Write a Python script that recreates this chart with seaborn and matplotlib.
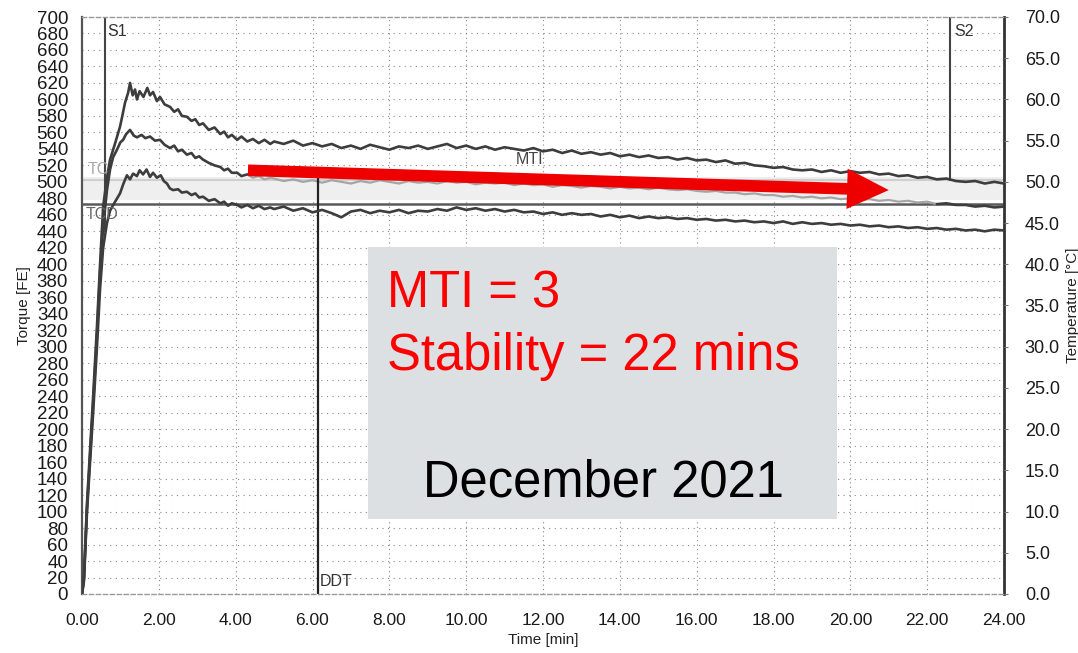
import numpy as np
import pandas as pd
import matplotlib
matplotlib.use("Agg")
import matplotlib.pyplot as plt
from matplotlib import font_manager
from matplotlib.patches import Rectangle
import seaborn as sns

# ---------------- data ----------------
t_early = [0.0, 0.05, 0.13, 0.29, 0.39, 0.47, 0.55, 0.65, 0.73, 0.85, 0.99, 1.05, 1.12, 1.2, 1.25,
           1.32, 1.38, 1.43, 1.5, 1.6, 1.7, 1.77, 1.85, 1.95, 2.03, 2.15, 2.29, 2.4, 2.5, 2.6, 2.73,
           2.85, 2.95, 3.05, 3.15, 3.3, 3.45, 3.6, 3.7, 3.8, 3.9, 4.04, 4.15, 4.3, 4.45, 4.6, 4.75, 4.9]
upper_early = [0, 20, 110, 240, 325, 400, 470, 505, 527, 545, 567, 580, 596, 608, 620,
               605, 612, 600, 610, 603, 614, 605, 609, 598, 603, 594, 591, 585, 588, 580, 579,
               574, 576, 569, 571, 563, 566, 558, 561, 554, 557, 551, 555, 549, 552, 547, 551, 546]
t_mid_early = [0.0, 0.05, 0.13, 0.29, 0.39, 0.47, 0.55, 0.65, 0.73, 0.81, 0.9, 1.0, 1.07, 1.15, 1.25,
               1.35, 1.43, 1.55, 1.65, 1.77, 1.9, 2.03, 2.15, 2.29, 2.4, 2.5, 2.6, 2.73, 2.85, 2.95,
               3.05, 3.15, 3.3, 3.45, 3.6, 3.7, 3.8, 3.9, 4.04, 4.15, 4.3, 4.45, 4.6, 4.75, 4.9]
middle_early = [0, 18, 105, 230, 315, 390, 445, 490, 515, 530, 538, 548, 551, 558, 563,
                556, 554, 557, 553, 555, 550, 551, 545, 541, 544, 537, 539, 533, 535, 529,
                531, 527, 523, 520, 518, 514, 516, 511, 511, 507, 509, 505, 507, 503, 505]
t_low_early = [0.0, 0.05, 0.13, 0.29, 0.39, 0.47, 0.55, 0.65, 0.73, 0.85, 0.99, 1.08, 1.17, 1.25,
               1.33, 1.43, 1.5, 1.59, 1.68, 1.77, 1.85, 1.95, 2.05, 2.13, 2.21, 2.29, 2.37, 2.5,
               2.6, 2.73, 2.85, 2.95, 3.05, 3.15, 3.3, 3.45, 3.6, 3.7, 3.8, 3.9, 4.04, 4.15, 4.3,
               4.45, 4.6, 4.75, 4.9]
lower_early = [0, 15, 100, 220, 300, 370, 420, 450, 465, 475, 486, 498, 508, 503,
               510, 507, 514, 509, 515, 506, 511, 505, 508, 501, 498, 492, 490, 491,
               487, 488, 484, 486, 481, 482, 477, 479, 474, 476, 471, 474, 472, 469, 472,
               468, 471, 467, 469]

# late part sampled every 0.25 min from 5.00 to 24.00
t_late = np.arange(5.0, 24.001, 0.25)
upper_late = [549, 546, 550, 544, 547, 543, 546, 541, 544, 540, 545, 542, 539, 543, 541, 544,
              540, 543, 546, 541, 544, 540, 543, 539, 542, 540, 538, 541, 537, 539, 535, 538,
              534, 536, 533, 535, 531, 533, 530, 532, 529, 530, 527, 529, 526, 527, 524, 526,
              522, 523, 520, 519, 517, 518, 515, 514, 515, 512, 514, 511, 513, 511, 512, 509,
              510, 507, 508, 505, 506, 503, 504, 501, 500, 501, 498, 500, 498]
middle_late = [504, 501, 503, 500, 502, 499, 502, 500, 498, 501, 499, 502, 500, 498, 501, 499,
               500, 498, 501, 499, 500, 497, 499, 498, 499, 496, 498, 496, 497, 494, 496, 495,
               493, 495, 494, 492, 494, 492, 493, 491, 493, 491, 490, 491, 489, 488, 489, 487,
               487, 485, 486, 484, 484, 482, 483, 481, 482, 480, 481, 479, 480, 478, 479, 477,
               478, 476, 477, 475, 476, 473, 474, 472, 472, 470, 471, 469, 470]
lower_late = [467, 470, 465, 468, 463, 466, 462, 457, 464, 466, 462, 465, 463, 466, 462, 465,
              464, 467, 465, 469, 466, 468, 465, 467, 464, 466, 463, 464, 461, 463, 460, 462,
              460, 461, 458, 460, 457, 459, 456, 458, 456, 457, 455, 456, 454, 455, 453, 454,
              452, 453, 451, 452, 450, 452, 449, 451, 449, 450, 448, 449, 447, 448, 446, 447,
              445, 446, 444, 445, 443, 444, 442, 443, 441, 442, 440, 442, 441]

torque_ticks = list(range(0, 701, 20))
temp_ticks = [0.0, 5.0, 10.0, 15.0, 20.0, 25.0, 30.0, 35.0, 40.0, 45.0, 50.0, 55.0, 60.0, 65.0, 70.0]
time_ticks = [0, 2, 4, 6, 8, 10, 12, 14, 16, 18, 20, 22, 24]

tcd_level = 473
tc_band = (478, 506)
s1_time, s2_time, ddt_time = 0.6, 22.6, 6.15
arrow_start = (4.32, 514)
arrow_end = (21.0, 490)

# ---------------- styling ----------------
sns.set_theme(style="white")
names = {f.name for f in font_manager.fontManager.ttflist}
narrow = "Liberation Sans Narrow" if "Liberation Sans Narrow" in names else "Liberation Sans"
plt.rcParams["font.family"] = ["Liberation Sans", "DejaVu Sans"]

fig = plt.figure(figsize=(10.78, 6.53), dpi=100)
fig.patch.set_facecolor("white")
ax = fig.add_axes([82 / 1078, 1 - 594 / 653, (1004 - 82) / 1078, (594 - 17) / 653])
ax.set_facecolor("white")

ax.set_xlim(0, 24)
ax.set_ylim(0, 700)

# dotted grid
for v in torque_ticks[1:-1]:
    ax.axhline(v, color="#8a8a8a", lw=0.8, ls=(0, (1, 4)), zorder=0)
for tt in time_ticks[1:-1]:
    ax.axvline(tt, color="#8a8a8a", lw=0.8, ls=(0, (1, 3)), zorder=0)

# tolerance band + TCD line
ax.axhspan(tc_band[0], tc_band[1], color="#efefef", zorder=0.5, lw=0)
ax.axhline(502, color="#cfcfcf", lw=1.5, zorder=0.6)
ax.axhline(tcd_level, color="#5a5a5a", lw=1.8, zorder=1)

# curves
dark = "#3d3d3d"
up_t = list(t_early) + list(t_late)
up_v = list(upper_early) + list(upper_late)
mid_t = list(t_mid_early) + list(t_late)
mid_v = list(middle_early) + list(middle_late)
lo_t = list(t_low_early) + list(t_late)
lo_v = list(lower_early) + list(lower_late)

df = pd.concat([
    pd.DataFrame({"t": up_t, "v": up_v, "curve": "upper"}),
    pd.DataFrame({"t": lo_t, "v": lo_v, "curve": "lower"}),
])
sns.lineplot(data=df, x="t", y="v", units="curve", estimator=None, sort=False,
             color=dark, lw=1.9, ax=ax, zorder=3)

mid = pd.DataFrame({"t": mid_t, "v": mid_v})
sns.lineplot(data=mid[mid.t <= 4.4], x="t", y="v", estimator=None, sort=False,
             color=dark, lw=1.9, ax=ax, zorder=3)
sns.lineplot(data=mid[(mid.t >= 4.3) & (mid.t <= 22.3)], x="t", y="v", estimator=None, sort=False,
             color="#a5a5a5", lw=1.6, ax=ax, zorder=2)
sns.lineplot(data=mid[mid.t >= 22.25], x="t", y="v", estimator=None, sort=False,
             color=dark, lw=1.9, ax=ax, zorder=3)

# marker lines
ax.plot([s1_time, s1_time], [700, 440], color="#444444", lw=1.5, zorder=2)
ax.plot([s2_time, s2_time], [700, 502], color="#444444", lw=1.5, zorder=2)
ax.plot([ddt_time, ddt_time], [505, 0], color="#222222", lw=1.6, zorder=2)

lab = dict(fontsize=11.5, color="#333333", family=["Liberation Sans", "DejaVu Sans"])
ax.text(s1_time + 0.07, 692, "S1", va="top", ha="left", **lab)
ax.text(s2_time + 0.1, 692, "S2", va="top", ha="left", **lab)
ax.text(ddt_time + 0.05, 6, "DDT", va="bottom", ha="left", **lab)
ax.text(11.3, 527, "MTI", va="center", ha="left", fontsize=11.5, color="#444444")
ax.text(0.15, 515, "TC", va="center", ha="left", fontsize=11.5, color="#aaaaaa", zorder=4)
ax.text(0.1, 460, "TCD", va="center", ha="left", fontsize=11.5, color="#666666", zorder=4)

# red arrow
ax.annotate("", xy=arrow_end, xytext=arrow_start,
            arrowprops=dict(arrowstyle="simple,head_length=1.5,head_width=1.45,tail_width=0.42",
                            mutation_scale=20, color="#ee0000", lw=0, shrinkA=0, shrinkB=0),
            zorder=6)

# text box
ax.add_patch(Rectangle((7.45, 91), 19.66 - 7.45, 421 - 91, facecolor="#dde0e3",
                       edgecolor="none", zorder=5))
big = dict(fontsize=36.5, family=["Liberation Sans", "DejaVu Sans"], zorder=7)
ax.text(7.94, 348, "MTI = 3", color="#ff0000", ha="left", va="baseline", **big)
ax.text(7.94, 272, "Stability = 22 mins", color="#ff0000", ha="left", va="baseline", **big)
ax.text(13.57, 118, "December 2021", color="black", ha="center", va="baseline", **big)

# axes / ticks
ax.set_xticks(time_ticks)
ax.set_xticklabels([f"{v:.2f}" for v in time_ticks])
ax.set_yticks(torque_ticks)
ax.set_yticklabels([str(v) for v in torque_ticks], family=narrow)
ax.tick_params(axis="x", length=0, pad=14, labelsize=12.5, labelcolor="#1a1a1a")
ax.tick_params(axis="y", length=0, pad=10, labelsize=13.5, labelcolor="#1a1a1a")
ax.set_xlabel("Time [min]", fontsize=11, color="#222222", labelpad=3)
ax.set_ylabel("Torque [FE]", fontsize=11, color="#222222", labelpad=4)

for side in ["top", "bottom"]:
    ax.spines[side].set_color("#9a9a9a")
    ax.spines[side].set_linestyle((0, (3, 2)))
    ax.spines[side].set_linewidth(1.0)
ax.spines["left"].set_color("#555555")
ax.spines["left"].set_linewidth(1.6)
ax.spines["right"].set_color("#333333")
ax.spines["right"].set_linewidth(2.0)

ax2 = ax.twinx()
ax2.set_ylim(0, 70)
ax2.set_yticks(temp_ticks)
ax2.set_yticklabels([f"{v:.1f}" for v in temp_ticks])
ax2.tick_params(axis="y", length=3, width=0.8, color="#777777", pad=12, labelsize=13,
                labelcolor="#1a1a1a")
ax2.set_ylabel("Temperature [°C]", fontsize=11, color="#222222", labelpad=4)
for s in ax2.spines.values():
    s.set_visible(False)
ax2.grid(False)

fig.savefig("out.png", dpi=100, facecolor="white")
